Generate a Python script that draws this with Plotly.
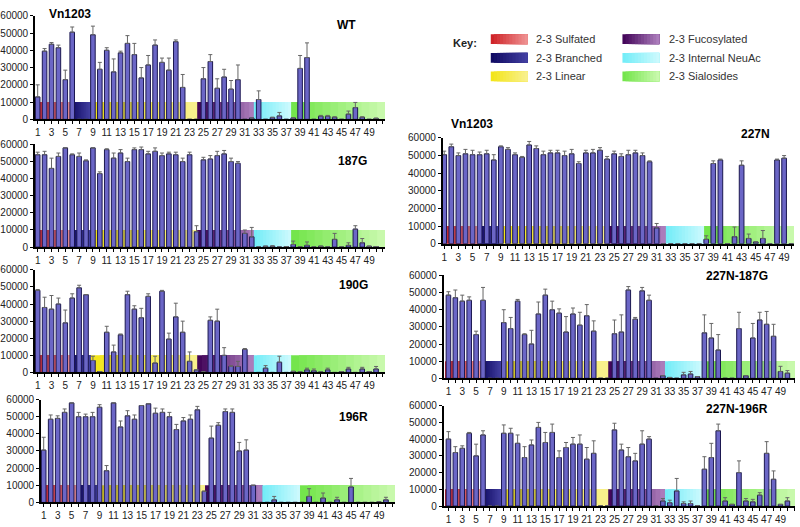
import plotly.graph_objects as go

# glycan numbers on the array and the odd tick labels
glycans = list(range(1, 51))
tick_vals = list(range(1, 50, 2))
tick_labels = [str(i) for i in tick_vals]
y_ticks = [0, 10000, 20000, 30000, 40000, 50000, 60000]

# mean signal per glycan (1..50) and upper error (SD) for each mutant
wt_vals = [13000, 39500, 43500, 41500, 23000, 50500, 0, 0, 49000, 29000,
           40000, 27500, 38500, 44000, 37500, 24000, 31500, 43000, 33000, 28500,
           45000, 18500, 0, 0, 23500, 33500, 18000, 24500, 17500, 23000,
           0, 800, 11500, 0, 1000, 2000, 0, 800, 29500, 35800,
           0, 1800, 1800, 1200, 0, 3000, 6800, 1200, 0, 500]
wt_err = [7000, 1500, 1000, 1500, 5500, 3000, 0, 0, 5000, 4000,
          1500, 7500, 1000, 4500, 6500, 6000, 5500, 3000, 2500, 7000,
          1000, 7500, 0, 0, 6500, 4000, 5500, 4500, 5000, 8500,
          0, 0, 5000, 0, 300, 2000, 0, 0, 7500, 8500,
          0, 500, 500, 300, 0, 1800, 3000, 300, 0, 300]

g187_vals = [54000, 54000, 46000, 53000, 58000, 54000, 53000, 50500, 58000, 43000,
             57000, 52000, 55000, 50000, 57000, 57000, 54500, 56000, 53500, 54500,
             54000, 50000, 54000, 9000, 51000, 51500, 53500, 54500, 50000, 49000,
             8000, 6000, 0, 500, 500, 0, 300, 1500, 0, 1000,
             0, 500, 0, 4500, 0, 1000, 10500, 2500, 500, 300]
g187_err = [1500, 2000, 6000, 2000, 0, 500, 2000, 500, 0, 1000,
            500, 3000, 2000, 2000, 1000, 1500, 1500, 2000, 1500, 1000,
            1500, 2000, 1500, 3500, 1500, 2000, 2500, 2000, 2000, 1000,
            2000, 5500, 0, 0, 300, 0, 0, 2000, 0, 2000,
            0, 0, 0, 3500, 0, 1500, 2000, 2500, 0, 0]

g190_vals = [48000, 38000, 37000, 40000, 29000, 43500, 49500, 45500, 7000, 500,
             23500, 12000, 22000, 45500, 37000, 32000, 44500, 5500, 47500, 19500,
             32500, 23500, 6500, 1500, 500, 30500, 30000, 10000, 3500, 3500,
             13500, 0, 0, 2500, 0, 6000, 0, 500, 300, 1500,
             1000, 300, 1500, 0, 500, 2000, 0, 2000, 500, 2000]
g190_err = [500, 6000, 8000, 3500, 7500, 2500, 1500, 0, 2500, 0,
            3500, 4000, 500, 2000, 2000, 5500, 1500, 4000, 500, 3500,
            8000, 6500, 5500, 0, 0, 2000, 7000, 4500, 500, 3000,
            500, 0, 0, 1500, 0, 3500, 0, 300, 0, 1000,
            1000, 0, 1000, 0, 0, 1000, 0, 1000, 0, 1500]

r196_vals = [30500, 48500, 49000, 52500, 58000, 50000, 50000, 50000, 55500, 18500,
             58000, 44000, 50500, 48500, 56500, 57500, 52000, 52500, 50000, 42500,
             47500, 48500, 54000, 6500, 37500, 45000, 53000, 52500, 30000, 30500,
             10000, 0, 0, 1500, 0, 0, 0, 0, 3500, 0,
             2500, 0, 1500, 0, 9000, 0, 0, 0, 300, 1500]
r196_err = [7500, 2500, 1500, 2000, 0, 2500, 1500, 2500, 1500, 3000,
            0, 3500, 3000, 2500, 0, 0, 3000, 2000, 2500, 3000,
            2000, 2500, 2000, 0, 7000, 1500, 1500, 2000, 5000, 6000,
            0, 0, 0, 2000, 0, 0, 0, 0, 4500, 0,
            3000, 0, 1500, 0, 5000, 0, 0, 0, 0, 1500]

n227_vals = [50500, 55000, 50000, 51000, 50500, 50500, 51000, 47500, 55000, 53500,
             50500, 49000, 56000, 54000, 50500, 51500, 51500, 50000, 51000, 45500,
             51500, 51500, 53000, 48000, 51000, 49500, 50500, 51500, 50000, 46500,
             9000, 0, 0, 0, 0, 0, 0, 2500, 45500, 47500,
             0, 4000, 44500, 3000, 1000, 3000, 0, 47500, 48500, 0]
n227_err = [2000, 1500, 1500, 2500, 2500, 1500, 2000, 3000, 500, 1000,
            1000, 500, 2000, 1500, 2000, 1500, 1500, 2500, 2500, 1000,
            1500, 2000, 1500, 1500, 1500, 1500, 2500, 1500, 1500, 500,
            2500, 0, 0, 0, 0, 0, 0, 2000, 1500, 500,
            0, 5500, 2500, 2500, 0, 4500, 0, 500, 1500, 0]

n227_187_vals = [48500, 47000, 45000, 45500, 25500, 45500, 0, 0, 32500, 29000,
                 45000, 25500, 20000, 37500, 48500, 40000, 38000, 27000, 37500, 31000,
                 36500, 27500, 0, 0, 26000, 27000, 51500, 34500, 51000, 45500,
                 0, 1500, 500, 0, 2000, 2500, 1000, 26500, 23500, 16500,
                 0, 0, 29000, 1500, 23500, 34000, 31500, 24500, 4000, 3000]
n227_187_err = [2000, 4500, 3500, 2000, 2000, 7500, 0, 0, 7500, 6500,
                1000, 500, 8000, 7000, 3500, 5000, 2500, 9000, 3500, 7500,
                6500, 6000, 0, 0, 8000, 10000, 2000, 1000, 2000, 3000,
                0, 0, 0, 0, 1500, 1500, 0, 10500, 8500, 9000,
                0, 0, 9500, 0, 8500, 4500, 7500, 7000, 3000, 1500]

n227_196_vals = [40000, 32000, 34500, 43500, 30000, 42500, 0, 0, 43500, 43500,
                 37500, 29000, 36500, 47000, 38000, 44000, 29000, 35000, 37000, 37000,
                 28000, 31500, 0, 0, 45500, 33500, 29500, 27000, 37000, 40000,
                 0, 3000, 2000, 9000, 1500, 1500, 200, 22000, 29000, 45000,
                 3000, 1000, 20000, 3000, 2500, 6500, 31500, 16000, 1000, 3000]
n227_196_err = [4500, 3500, 1500, 500, 7000, 2500, 0, 0, 5000, 3000,
                5000, 6500, 3000, 3000, 6000, 5000, 4000, 3000, 4000, 5500,
                7000, 7500, 0, 0, 4000, 3500, 5500, 4500, 8000, 1500,
                0, 1500, 1500, 7500, 1000, 1500, 0, 7500, 8500, 4000,
                2000, 0, 7000, 1500, 1500, 1500, 7000, 5000, 0, 2000]

# glycan classes shaded under the bars
groups = ["2-3 Sulfated", "2-3 Branched", "2-3 Linear",
          "2-3 Fucosylated", "2-3 Internal NeuAc", "2-3 Sialosides"]
group_edges = [0.5, 5.8, 8.7, 24.1, 32.3, 37.7, 51.3]
band_top = 10000
group_colors = [("#cf2328", "#ee9090"), ("#110b64", "#423fa0"),
                ("#f3e51a", "#f8f08c"), ("#44065a", "#ab7cbb"),
                ("#74edf8", "#cbf9fd"), ("#74e54c", "#c8f9ac")]

W, H = 800, 527
FONT = "Liberation Sans, Arial, sans-serif"

# (title, values, errors, x px span, y px of 60000 and 0, x range, title centre)
panels = [
    ("WT", wt_vals, wt_err, (33, 384), (10, 116), (0.6, 51.3), (345, 19)),
    ("187G", g187_vals, g187_err, (33, 384), (141.7, 246.7), (0.6, 51.3), (351, 159)),
    ("190G", g190_vals, g190_err, (33, 384), (270, 375), (0.6, 51.3), (352, 286)),
    ("196R", r196_vals, r196_err, (39, 394), (402.7, 508), (0.6, 51.3), (352, 421)),
    ("227N", n227_vals, n227_err, (441.7, 794), (135, 243.3), (0.77, 50.4), (755, 131)),
    ("227N-187G", n227_187_vals, n227_187_err, (442.7, 795), (275.7, 381), (0.3, 51.1), (737, 276)),
    ("227N-196R", n227_196_vals, n227_196_err, (442.7, 795), (409, 511.7), (0.3, 51.1), (737, 412)),
]


def hex_rgb(h):
    h = h.lstrip("#")
    return [int(h[i:i + 2], 16) for i in (0, 2, 4)]


def mix(c0, c1, t):
    a, b = hex_rgb(c0), hex_rgb(c1)
    return "rgb(%d,%d,%d)" % tuple(round(a[i] + (b[i] - a[i]) * t) for i in range(3))


def gradient(x0, x1, y0, y1, cols, xref, yref, n=12):
    # left-to-right fade, each strip runs to the end so no seams show
    out = []
    step = (x1 - x0) / n
    for k in range(n):
        out.append(dict(type="rect", xref=xref, yref=yref, layer="below",
                        x0=x0 + k * step, x1=x1, y0=y0, y1=y1, line=dict(width=0),
                        fillcolor=mix(cols[0], cols[1], k / (n - 1))))
    return out


def label(text, px, py, size=12, color="black", xanchor="center"):
    return dict(text=text, x=px / W, y=1 - py / H, xref="paper", yref="paper",
                showarrow=False, xanchor=xanchor, yanchor="middle",
                font=dict(family=FONT, size=size, color=color))


fig = go.Figure()
shapes = []
annotations = []

for i, (name, vals, err, xs, ys, xr, tpos) in enumerate(panels):
    ax = "" if i == 0 else str(i + 1)
    fig.add_trace(go.Bar(
        x=glycans, y=vals, width=0.66,
        marker=dict(color="#6b66c6", line=dict(color="#1b1750", width=1)),
        error_y=dict(type="data", array=err, arrayminus=[0] * len(err),
                     symmetric=False, color="#666666", thickness=1, width=2),
        xaxis="x" + ax, yaxis="y" + ax, showlegend=False, cliponaxis=False,
    ))
    fig.layout["xaxis" + ax] = dict(
        domain=[xs[0] / W, xs[1] / W], range=list(xr), anchor="y" + ax,
        tickvals=tick_vals, ticktext=tick_labels, ticks="outside", ticklen=3,
        tickcolor="black", showline=True, linecolor="black", linewidth=1.5,
        showgrid=False, zeroline=False,
        tickfont=dict(family=FONT, size=10, color="#222"),
        minor=dict(dtick=1, tick0=0, ticks="outside", ticklen=3, tickcolor="black"),
    )
    fig.layout["yaxis" + ax] = dict(
        domain=[1 - ys[1] / H, 1 - ys[0] / H], range=[0, 60000], anchor="x" + ax,
        tickvals=y_ticks, tickformat="d", ticks="outside", ticklen=3,
        tickcolor="black", showline=True, linecolor="black", linewidth=1.5,
        showgrid=False, zeroline=False,
        tickfont=dict(family=FONT, size=10, color="#222"),
    )
    for g in range(len(groups)):
        x0 = max(group_edges[g], xr[0])
        x1 = min(group_edges[g + 1], xr[1])
        shapes += gradient(x0, x1, 0, band_top, group_colors[g], "x" + ax, "y" + ax)
    annotations.append(label("<b>%s</b>" % name, tpos[0], tpos[1]))

# strain labels
annotations.append(label("<b>Vn1203</b>", 68, 8))
annotations.append(label("<b>Vn1203</b>", 471, 121))

# key
annotations.append(label("<b>Key:</b>", 450, 38, size=11, color="#222", xanchor="left"))
key_cols = [(490, 533), (622, 667)]
key_rows = [34, 53, 72]
for g, name in enumerate(groups):
    sx, tx = key_cols[g // 3]
    ry = key_rows[g % 3]
    shapes += gradient(sx / W, (sx + 37) / W, 1 - (ry + 5) / H, 1 - (ry - 5) / H,
                       group_colors[g], "paper", "paper")
    annotations.append(label(name, tx, ry, size=11, color="#333", xanchor="left"))

fig.update_layout(
    width=W, height=H, margin=dict(l=0, r=0, t=0, b=0),
    paper_bgcolor="white", plot_bgcolor="white",
    shapes=shapes, annotations=annotations, bargap=0.3,
)

fig.write_html("out.html", config={"displayModeBar": False},
               post_script="document.body.style.margin='0px';")
